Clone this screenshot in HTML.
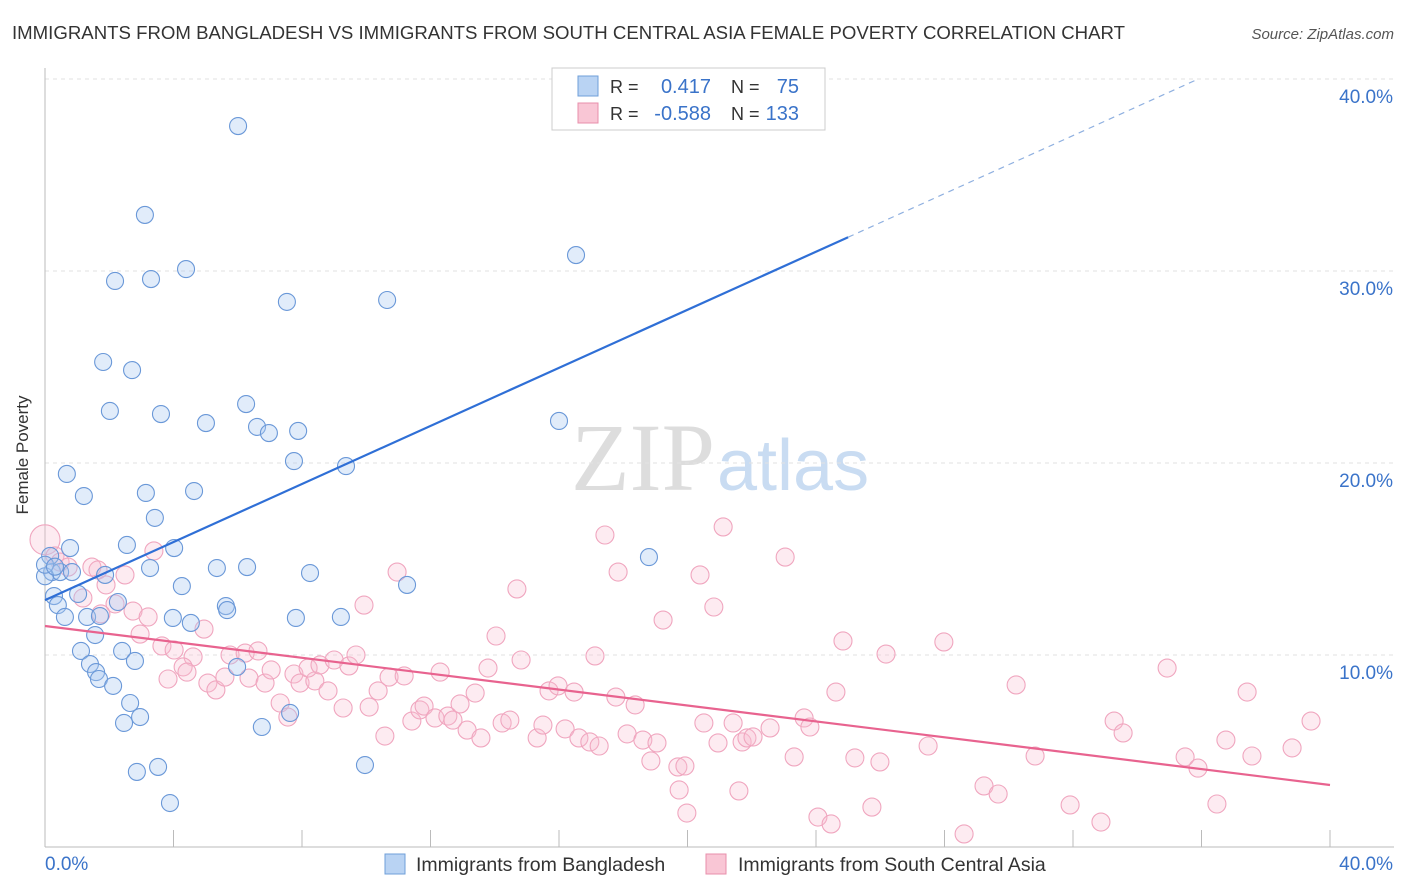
<!DOCTYPE html>
<html><head><meta charset="utf-8"><style>
body{margin:0;background:#fff;font-family:"Liberation Sans",sans-serif;}
svg{display:block}
</style></head><body>
<svg id="chart" width="1406" height="892" font-family="Liberation Sans, sans-serif">
<text x="12" y="39" font-size="18" fill="#333" textLength="1113" lengthAdjust="spacingAndGlyphs">IMMIGRANTS FROM BANGLADESH VS IMMIGRANTS FROM SOUTH CENTRAL ASIA FEMALE POVERTY CORRELATION CHART</text>
<text x="1394" y="39" font-size="15" fill="#555" font-style="italic" text-anchor="end">Source: ZipAtlas.com</text>
<text x="715" y="490" font-size="96" font-family="Liberation Serif, serif" fill="#ddd" text-anchor="end">ZIP</text>
<text x="717" y="490" font-size="72" fill="#c9dcf2">atlas</text>
<g id="grid"></g><g id="axes"></g><g id="marks"></g>
<text x="28" y="455" font-size="17" fill="#333" transform="rotate(-90 28 455)" text-anchor="middle">Female Poverty</text>
<text x="45" y="870" font-size="19" fill="#3a73c9">0.0%</text>
<text x="1393" y="870" font-size="19" fill="#3a73c9" text-anchor="end">40.0%</text>
<g>
<rect x="552" y="68" width="273" height="62" fill="#fff" stroke="#ccc"/>
<rect x="578" y="76" width="20" height="20" fill="#b9d3f3" stroke="#6f9fd8"/>
<rect x="578" y="103" width="20" height="20" fill="#f9c6d5" stroke="#e88fab"/>
<g font-size="20">
<text x="610" y="93" fill="#333" font-size="18">R =</text>
<text x="711" y="93" fill="#3a73c9" text-anchor="end">0.417</text>
<text x="731" y="93" fill="#333" font-size="18">N =</text>
<text x="799" y="93" fill="#3a73c9" text-anchor="end">75</text>
</g>
<g font-size="20">
<text x="610" y="120" fill="#333" font-size="18">R =</text>
<text x="711" y="120" fill="#3a73c9" text-anchor="end">-0.588</text>
<text x="731" y="120" fill="#333" font-size="18">N =</text>
<text x="799" y="120" fill="#3a73c9" text-anchor="end">133</text>
</g>
</g>
<g>
<rect x="385" y="854" width="20" height="20" fill="#b9d3f3" stroke="#6f9fd8"/>
<text x="416" y="871" font-size="19.5" fill="#333">Immigrants from Bangladesh</text>
<rect x="706" y="854" width="20" height="20" fill="#f9c6d5" stroke="#e88fab"/>
<text x="738" y="871" font-size="19.5" fill="#333">Immigrants from South Central Asia</text>
</g>
</svg>
<script>
const yTicks=[10,20,30,40];
const yTickLabels=["10.0%","20.0%","30.0%","40.0%"];
const xTicks=[0,4,8,12,16,20,24,28,32,36,40];
const blueX=[6.01,3.11,2.18,3.30,4.39,7.53,10.65,16.53,1.81,2.71,2.02,3.61,5.01,6.26,6.60,6.97,7.88,7.75,9.37,16.0,0.68,1.21,3.14,4.64,3.42,2.55,4.02,0.78,0.16,0.22,0.47,0.84,1.87,3.27,5.35,6.29,8.25,11.27,18.8,4.26,0.28,1.03,0.40,2.27,5.63,5.67,7.81,9.21,0.62,1.31,1.71,3.98,4.54,1.56,1.12,2.40,1.40,1.59,1.68,2.80,2.12,5.98,2.65,2.46,2.96,7.63,6.75,2.86,3.52,9.96,3.89,0.0,0.0,0.31,17.56,20.95];
const blueY=[37.55,32.92,29.48,29.58,30.1,28.39,28.49,30.83,25.26,24.84,22.71,22.55,22.08,23.07,21.88,21.56,21.67,20.1,19.84,22.19,19.43,18.28,18.44,18.54,17.14,15.73,15.57,15.57,15.16,14.32,14.32,14.32,14.17,14.53,14.53,14.58,14.27,13.65,15.1,13.59,13.07,13.18,12.6,12.76,12.55,12.34,11.93,11.98,11.98,11.98,12.03,11.93,11.67,11.04,10.21,10.21,9.53,9.11,8.75,9.69,8.39,9.38,7.5,6.46,6.77,6.98,6.25,3.91,4.17,4.27,2.29,14.1,14.7,14.6,39.8,38.2];
const pinkX=[0,0.31,0.47,0.72,1.46,1.65,2.49,1.90,1.18,3.39,2.18,2.74,3.21,2.96,1.74,3.64,4.02,4.95,4.61,4.30,4.42,3.83,5.07,5.32,5.60,5.76,6.23,6.63,6.35,6.85,7.04,7.32,7.56,7.75,7.94,8.40,8.19,8.56,8.81,9.0,9.28,9.46,9.68,9.93,10.37,10.09,10.58,10.71,11.18,10.96,11.42,11.67,11.80,12.14,12.30,12.54,12.70,12.92,13.14,13.39,13.57,13.79,14.04,14.23,14.47,14.69,14.82,15.32,15.50,15.69,15.97,16.19,16.47,16.62,16.96,17.25,17.12,17.43,17.77,17.84,18.12,18.37,18.61,18.86,19.05,19.24,19.70,19.92,19.74,19.98,20.39,20.51,20.82,20.95,21.11,21.42,21.70,21.85,22.04,21.60,22.57,23.04,23.32,23.63,23.81,24.06,24.47,24.62,24.84,25.21,25.74,25.99,26.18,27.49,27.98,28.61,29.23,29.67,30.82,30.23,31.91,32.87,33.28,33.56,34.93,35.49,35.89,36.48,36.76,37.42,37.57,38.82,39.41];
const pinkY=[16.0,15.16,14.84,14.58,14.58,14.43,14.17,13.65,12.97,15.42,12.66,12.29,11.98,11.09,12.14,10.47,10.26,11.35,9.90,9.38,9.11,8.75,8.54,8.18,8.85,10.0,10.1,10.21,8.80,8.54,9.22,7.5,6.77,9.01,8.54,8.65,9.32,9.48,8.13,9.74,7.24,9.43,10.0,12.6,8.13,7.29,5.78,8.85,8.91,14.32,6.56,7.14,7.34,6.72,9.11,6.82,6.61,7.45,6.09,8.02,5.68,9.32,10.99,6.46,6.61,13.44,9.74,5.68,6.35,8.13,8.39,6.15,8.07,5.68,5.47,5.26,9.95,16.25,7.81,14.32,5.89,7.40,5.57,4.48,5.42,11.82,4.17,4.22,2.97,1.77,14.17,6.46,12.5,5.42,16.67,6.46,5.47,5.68,5.73,2.92,6.2,15.1,4.69,6.72,6.25,1.56,1.2,8.07,10.73,4.64,2.08,4.43,10.05,5.26,10.68,0.68,3.18,2.76,4.74,8.44,2.19,1.3,6.56,5.94,9.32,4.69,4.11,2.24,5.57,8.07,4.74,5.16,6.56];
const blueTrend=[12.86,0.756];
const pinkTrend=[11.51,-0.207];
const NS="http://www.w3.org/2000/svg";
const X=v=>45+v*32.125, Y=v=>847-v*19.2;
function mk(tag,attrs,parent){const e=document.createElementNS(NS,tag);for(const k in attrs)e.setAttribute(k,attrs[k]);parent.appendChild(e);return e;}
const grid=document.getElementById('grid'),axes=document.getElementById('axes'),marks=document.getElementById('marks');
yTicks.forEach((t,i)=>{
 const l=mk('line',{x1:45,x2:1394,y1:Y(t),y2:Y(t),stroke:'#e2e2e2','stroke-dasharray':'4,4'},grid);
 
 
 const tx=mk('text',{x:1393,y:Y(t)+24,'font-size':19,fill:'#3a73c9','text-anchor':'end'},grid);
 tx.textContent=yTickLabels[i];
 
 
});
const ya=mk('line',{x1:45,x2:45,y1:68,y2:847,stroke:'#bbb'},axes);


const xa=mk('line',{x1:45,x2:1394,y1:847,y2:847,stroke:'#bbb'},axes);


xTicks.forEach(t=>{const l=mk('line',{x1:X(t),x2:X(t),y1:830,y2:847,stroke:'#bbb'},axes);
 
 });
pinkX.forEach((v,i)=>{const c=mk('circle',{cx:X(v),cy:Y(pinkY[i]),r:i===0?15:9,fill:'rgba(248,190,210,0.3)',stroke:'#f0a6bf','stroke-width':1.1},marks);
 
 });
blueX.forEach((v,i)=>{const c=mk('circle',{cx:X(v),cy:Y(blueY[i]),r:8.5,fill:'rgba(170,200,240,0.35)',stroke:'#6a98d8','stroke-width':1.1},marks);
 
 });
const bEnd=25;
const bl=mk('line',{x1:X(0),y1:Y(blueTrend[0]),x2:X(bEnd),y2:Y(blueTrend[0]+blueTrend[1]*bEnd),stroke:'#2f6fd6','stroke-width':2.2},marks);


const xEnd=(40-blueTrend[0])/blueTrend[1];
const bd=mk('line',{x1:X(bEnd),y1:Y(blueTrend[0]+blueTrend[1]*bEnd),x2:X(xEnd),y2:Y(40),stroke:'#8fb0e0','stroke-width':1.2,'stroke-dasharray':'6,5'},marks);


const pl=mk('line',{x1:X(0),y1:Y(pinkTrend[0]),x2:X(40),y2:Y(pinkTrend[0]+pinkTrend[1]*40),stroke:'#e8638f','stroke-width':2.2},marks);


</script>
</body></html>
